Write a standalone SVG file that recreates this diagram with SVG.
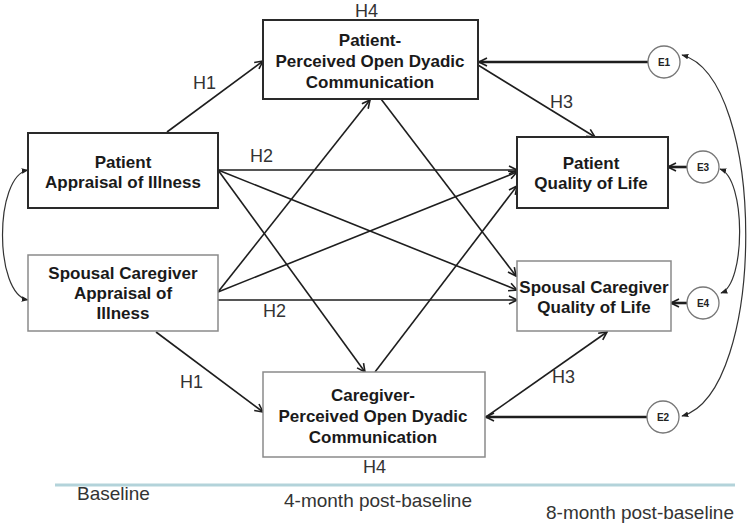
<svg xmlns="http://www.w3.org/2000/svg" width="750" height="526" viewBox="0 0 750 526">
  <style>
    .box-dark { fill: #fff; stroke: #2a2a2a; stroke-width: 2; }
    .box-light { fill: #fff; stroke: #8a8a8a; stroke-width: 1.5; }
    .label { font-family: "Liberation Sans", Arial, sans-serif; font-weight: bold; font-size: 17px; fill: #1a1a1a; text-anchor: middle; }
    .hyp { font-family: "Liberation Sans", Arial, sans-serif; font-size: 18px; fill: #333; }
    .time { font-family: "Liberation Sans", Arial, sans-serif; font-size: 19px; fill: #333; }
    .err { fill: #fff; stroke: #777; stroke-width: 1.3; }
    .err-t { font-family: "Liberation Sans", Arial, sans-serif; font-weight: bold; font-size: 10px; fill: #222; text-anchor: middle; }
    .path { fill: none; stroke: #1e1e1e; stroke-width: 1.6; marker-end: url(#open); }
    .resid { fill: none; stroke: #1e1e1e; stroke-width: 2.6; marker-end: url(#open); }
    .cov { fill: none; stroke: #333; stroke-width: 1.2; marker-start: url(#solidS); marker-end: url(#solid); }
  </style>
  <defs>
    <marker id="open" viewBox="0 0 10 10" refX="9" refY="5" markerWidth="10" markerHeight="10" markerUnits="userSpaceOnUse" orient="auto">
      <path d="M1,1 L9,5 L1,9" fill="none" stroke="#1e1e1e" stroke-width="1.6"/>
    </marker>
    <marker id="solid" viewBox="0 0 10 10" refX="9" refY="5" markerWidth="7" markerHeight="7" markerUnits="userSpaceOnUse" orient="auto">
      <path d="M0,1 L10,5 L0,9 Z" fill="#222"/>
    </marker>
    <marker id="solidS" viewBox="0 0 10 10" refX="1" refY="5" markerWidth="7" markerHeight="7" markerUnits="userSpaceOnUse" orient="auto">
      <path d="M10,1 L0,5 L10,9 Z" fill="#222"/>
    </marker>
  </defs>

  <rect width="750" height="526" fill="#fff"/>

  <!-- Connectors -->
  <g id="connectors">
    <!-- H1 -->
    <line class="path" x1="167" y1="132" x2="263" y2="61"/>
    <line class="path" x1="156" y1="332" x2="263" y2="412"/>
    <!-- from patient appraisal -->
    <line class="path" x1="218" y1="170" x2="517" y2="170"/>
    <line class="path" x1="218" y1="170" x2="517" y2="290"/>
    <line class="path" x1="218" y1="170" x2="365" y2="372"/>
    <!-- from caregiver appraisal -->
    <line class="path" x1="218" y1="292" x2="370" y2="100"/>
    <line class="path" x1="218" y1="292" x2="517" y2="172"/>
    <line class="path" x1="218" y1="300" x2="517" y2="300"/>
    <!-- cross paths from communication -->
    <line class="path" x1="381" y1="99" x2="516" y2="276"/>
    <line class="path" x1="375" y1="372" x2="517" y2="186"/>
    <!-- H3 -->
    <line class="path" x1="478" y1="65" x2="595" y2="137"/>
    <line class="path" x1="486" y1="417" x2="607" y2="332"/>
    <!-- residual paths -->
    <line class="resid" x1="648" y1="62" x2="479" y2="62"/>
    <line class="resid" x1="647" y1="417" x2="486" y2="417"/>
    <line class="resid" x1="687" y1="167" x2="668" y2="167"/>
    <line class="resid" x1="687" y1="303" x2="671" y2="303"/>
    <!-- covariances -->
    <path class="cov" d="M682,55 C767,78 767,392 682,416"/>
    <path class="cov" d="M720,169 C746,178 746,284 721,293"/>
    <path class="cov" d="M28,170 C-6,176 -6,294 28,300"/>
  </g>

  <!-- Nodes -->
  <g id="patient-communication">
    <rect class="box-dark" x="263" y="20" width="215" height="79"/>
    <text class="label" x="370" y="46">Patient-</text>
    <text class="label" x="370" y="67">Perceived Open Dyadic</text>
    <text class="label" x="370" y="88">Communication</text>
  </g>
  <g id="patient-appraisal">
    <rect class="box-dark" x="28" y="133" width="190" height="75"/>
    <text class="label" x="123" y="168">Patient</text>
    <text class="label" x="123" y="188">Appraisal of Illness</text>
  </g>
  <g id="caregiver-appraisal">
    <rect class="box-light" x="28" y="255" width="190" height="76"/>
    <text class="label" x="123" y="279">Spousal Caregiver</text>
    <text class="label" x="123" y="299">Appraisal of</text>
    <text class="label" x="123" y="319">Illness</text>
  </g>
  <g id="patient-qol">
    <rect class="box-dark" x="517" y="137" width="151" height="71"/>
    <text class="label" x="591" y="169">Patient</text>
    <text class="label" x="591" y="189">Quality of Life</text>
  </g>
  <g id="caregiver-qol">
    <rect class="box-light" x="517" y="261" width="154" height="70"/>
    <text class="label" x="594" y="293">Spousal Caregiver</text>
    <text class="label" x="594" y="313">Quality of Life</text>
  </g>
  <g id="caregiver-communication">
    <rect class="box-light" x="263" y="372" width="222" height="85"/>
    <text class="label" x="373" y="401">Caregiver-</text>
    <text class="label" x="373" y="422">Perceived Open Dyadic</text>
    <text class="label" x="373" y="443">Communication</text>
  </g>

  <g id="E1"><circle class="err" cx="664" cy="62" r="16"/><text class="err-t" x="664" y="66">E1</text></g>
  <g id="E2"><circle class="err" cx="663" cy="417" r="16"/><text class="err-t" x="663" y="421">E2</text></g>
  <g id="E3"><circle class="err" cx="703" cy="167" r="16"/><text class="err-t" x="703" y="171">E3</text></g>
  <g id="E4"><circle class="err" cx="703" cy="303" r="16"/><text class="err-t" x="703" y="307">E4</text></g>

  <!-- Hypothesis labels -->
  <g id="hypotheses">
    <text class="hyp" x="355" y="17">H4</text>
    <text class="hyp" x="193" y="89">H1</text>
    <text class="hyp" x="550" y="108">H3</text>
    <text class="hyp" x="250" y="162">H2</text>
    <text class="hyp" x="263" y="317">H2</text>
    <text class="hyp" x="180" y="388">H1</text>
    <text class="hyp" x="552" y="383">H3</text>
    <text class="hyp" x="363" y="473">H4</text>
  </g>

  <!-- Time axis -->
  <g id="timeline">
    <line x1="55" y1="485" x2="735" y2="485" stroke="#b3d3da" stroke-width="3"/>
    <text class="time" x="77" y="500">Baseline</text>
    <text class="time" x="284" y="507">4-month post-baseline</text>
    <text class="time" x="546" y="519">8-month post-baseline</text>
  </g>
</svg>
